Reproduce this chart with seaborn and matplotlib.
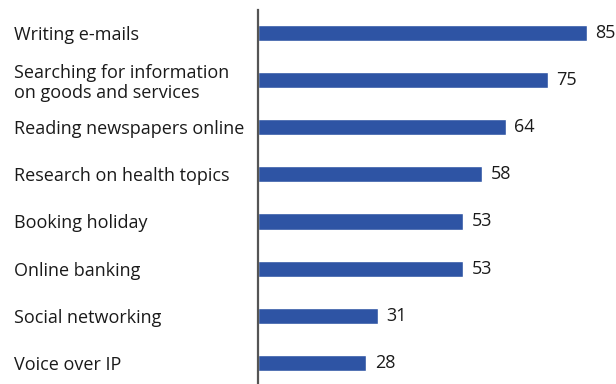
import matplotlib
matplotlib.use("Agg")
import matplotlib.pyplot as plt
import seaborn as sns
import pandas as pd

# Values
activities = [
    "Writing e-mails",
    "Searching for information\non goods and services",
    "Reading newspapers online",
    "Research on health topics",
    "Booking holiday",
    "Online banking",
    "Social networking",
    "Voice over IP",
]
shares = [85, 75, 64, 58, 53, 53, 31, 28]

df = pd.DataFrame({"Activity": activities, "Share": shares})

sns.set_style("white")
plt.rcParams["font.family"] = ["Open Sans", "DejaVu Sans"]

fig = plt.figure(figsize=(6.16, 3.84), dpi=100)
ax = fig.add_axes([258 / 616, 0, 1 - 258 / 616, 1 - 10 / 384])

sns.barplot(data=df, x="Share", y="Activity", color="#2E54A4",
            width=0.34, saturation=1, ax=ax)

ax.set_xlim(0, 92.5)
ax.set_ylim(7.45, -0.49)
ax.set_xlabel("")
ax.set_ylabel("")
ax.set_xticks([])

for s in ["top", "right", "bottom"]:
    ax.spines[s].set_visible(False)
ax.spines["left"].set_color("#555555")
ax.spines["left"].set_linewidth(1.6)

ax.tick_params(axis="y", length=0, pad=176, labelsize=13, labelcolor="#1a1a1a")
for lbl in ax.get_yticklabels():
    lbl.set_ha("left")
    lbl.set_linespacing(1.1)

labels = ax.bar_label(ax.containers[0], padding=6, fontsize=13, color="#1a1a1a")

fig.savefig("out.png", dpi=100)
